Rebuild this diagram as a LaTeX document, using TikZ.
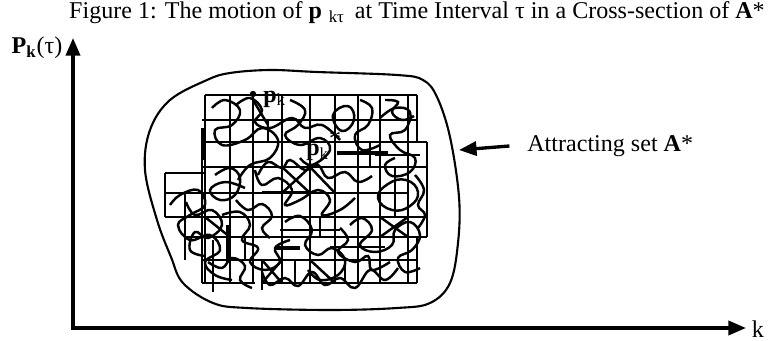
\documentclass[tikz,border=0pt]{standalone}
\usepackage{fontspec}
\setmainfont{Liberation Serif}
\usetikzlibrary{arrows.meta}

\begin{document}
\begin{tikzpicture}[x=0.02cm,y=-0.02cm,
		axis/.style={line width=1.9pt,line cap=rect,-{Triangle[length=10pt,width=8pt]}},
		cell/.style={line width=1.2pt},
		scribble/.style={line width=1.4pt},
		lbl/.style={font=\fontsize{13.7}{16}\selectfont,inner sep=0pt}]
		\useasboundingbox (0,0) rectangle (768,341);

		\node [lbl] (title) at (417,13) {Figure 1: The motion of \textbf{p}\,\textsubscript{\,kτ}\, at Time Interval τ in a Cross-section of \textbf{A}*};
		\node [lbl] (plabel) at (37,48) {\textbf{P\textsubscript{k}}(τ)};
		\node [lbl] (klabel) at (758,329) {k};

		\coordinate (origin) at (73,328);
		\coordinate (ytop) at (73,38);
		\coordinate (xend) at (746,328);
		\draw [axis] (origin) -- (ytop);
		\draw [axis] (origin) -- (xend);

		\draw [line width=1.2pt] plot [smooth cycle, tension=0.6] coordinates {(207,80) (230,73) (270,70) (317,72) (397,75) (423,80) (437,97) (450,137) (459,197) (458,243) (450,283) (430,303) (397,308) (330,310) (247,308) (213,303) (183,283) (171,257) (157,220) (145,170) (150,130) (170,100)};
		\coordinate (blobedge) at (459,150);

		\draw [cell] (205,95) -- (417,95);
		\draw [cell] (202,120) -- (417,120);
		\draw [cell] (205,142) -- (427,142);
		\draw [cell] (202,167) -- (427,167);
		\draw [cell] (165,173) -- (205,173);
		\draw [cell] (165,193) -- (407,193);
		\draw [cell] (165,217) -- (427,217);
		\draw [cell] (185,237) -- (427,237);
		\draw [cell] (202,260) -- (417,260);
		\draw [cell] (202,283) -- (255,283);
		\draw [cell] (262,283) -- (417,283);
		\draw [cell] (262,192) -- (310,192);
		\draw [cell] (280,230) -- (340,230);
		\draw [cell] (330,247) -- (385,247);
		\draw [cell] (375,155) -- (420,155);

		\draw [cell] (205,95) -- (205,283);
		\draw [cell] (202,130) -- (202,283);
		\draw [cell] (230,95) -- (230,283);
		\draw [cell] (253,95) -- (253,283);
		\draw [cell] (282,95) -- (282,283);
		\draw [cell] (310,95) -- (310,283);
		\draw [cell] (335,95) -- (335,283);
		\draw [cell] (358,95) -- (358,283);
		\draw [cell] (380,95) -- (380,283);
		\draw [cell] (408,95) -- (408,283);
		\draw [cell] (417,95) -- (417,142);
		\draw [cell] (427,142) -- (427,237);
		\draw [cell] (417,237) -- (417,283);
		\draw [cell] (165,173) -- (165,217);
		\draw [cell] (185,193) -- (185,260);
		\draw [cell] (268,120) -- (268,142);
		\draw [cell] (370,142) -- (370,167);
		\draw [cell] (395,167) -- (395,217);
		\draw [cell] (320,217) -- (320,237);
		\draw [cell] (245,237) -- (245,260);
		\draw [cell] (295,260) -- (295,283);
		\draw [cell] (345,260) -- (345,283);
		\draw [cell] (262,260) -- (262,290);
		\draw [cell] (213,240) -- (213,292);

		\draw [line width=2.4pt] (203,128) -- (203,160);
		\draw [line width=2.4pt] (337,153) -- (388,153);
		\draw [line width=2.2pt] (228,225) -- (228,262);
		\draw [line width=2.2pt] (276,248) -- (300,248);

		\draw [scribble] plot [smooth, tension=0.7] coordinates {(212,108) (225,100) (240,110) (232,125) (215,130) (222,145) (245,140) (262,128) (278,140) (270,158) (250,165) (238,180)};
		\draw [scribble] plot [smooth, tension=0.7] coordinates {(290,100) (305,110) (298,125) (285,135) (300,145) (320,138) (330,150) (312,165) (300,158)};
		\draw [scribble] plot [smooth cycle, tension=0.8] coordinates {(333,115) (348,106) (354,120) (342,131)};
		\draw [scribble] plot [smooth, tension=0.7] coordinates {(360,100) (372,108) (368,125) (355,135) (362,150) (380,145)};
		\draw [scribble] plot [smooth, tension=0.7] coordinates {(380,118) (395,108) (410,112) (405,130) (390,135) (400,150) (415,158) (410,172) (392,176) (385,165) (395,158)};
		\draw [scribble] plot [smooth, tension=0.7] coordinates {(215,175) (230,168) (240,178) (235,195) (220,200) (210,190) (225,182) (245,188)};
		\draw [scribble] plot [smooth, tension=0.7] coordinates {(255,170) (262,185) (278,178) (292,190) (285,205) (300,200) (318,190) (330,200) (322,215) (340,210) (355,198)};
		\draw [scribble] plot [smooth, tension=0.7] coordinates {(170,205) (180,195) (198,190) (205,205) (190,215) (178,225) (190,240) (210,235) (220,250) (205,262) (215,275) (232,280)};
		\draw [scribble] plot [smooth, tension=0.7] coordinates {(222,215) (240,212) (250,225) (242,240) (258,248) (250,262) (265,270) (280,262) (275,248) (290,240)};
		\draw [scribble] plot [smooth, tension=0.7] coordinates {(285,222) (300,216) (312,230) (305,245) (318,255) (332,248) (345,260) (338,275) (320,280) (308,270)};
		\draw [scribble] plot [smooth, tension=0.7] coordinates {(350,225) (362,218) (372,230) (360,245) (375,252) (392,245) (395,230) (410,222) (420,235) (412,250) (398,258) (405,272) (420,268)};
		\draw [scribble] plot [smooth cycle, tension=0.8] coordinates {(378,198) (388,184) (406,180) (418,192) (410,206) (392,210)};
		\draw [scribble] plot [smooth, tension=0.7] coordinates {(236,105) (250,98) (262,110) (255,122) (270,128) (292,118) (305,128) (322,125) (340,140)};
		\draw [scribble] plot [smooth, tension=0.7] coordinates {(258,175) (268,162) (282,168) (290,160) (305,170) (318,165) (328,178) (345,172) (358,182) (372,176)};
		\draw [scribble] plot [smooth, tension=0.7] coordinates {(186,202) (195,215) (212,210) (222,225) (208,238) (195,232) (190,250) (205,256)};
		\draw [scribble] plot [smooth, tension=0.7] coordinates {(262,272) (270,285) (285,278) (298,286) (312,272) (325,285) (340,278) (355,288) (370,270) (385,280) (398,268)};
		\draw [scribble] plot [smooth, tension=0.7] coordinates {(340,228) (348,240) (338,252) (355,262) (368,256) (372,270) (390,262)};
		\draw [scribble] plot [smooth, tension=0.7] coordinates {(236,200) (248,210) (262,204) (272,216) (262,228) (270,238)};
		\draw [scribble] plot [smooth, tension=0.7] coordinates {(385,100) (398,102) (392,112) (402,120) (414,116)};
		\draw [scribble] plot [smooth, tension=0.7] coordinates {(208,262) (222,268) (232,258) (245,266) (240,280) (252,288)};
		\draw [scribble] plot [smooth, tension=0.7] coordinates {(415,175) (424,190) (418,205) (425,215) (418,228)};

		\draw [scribble] (282,167) -- (310,193);
		\draw [scribble] (310,167) -- (282,193);
		\draw [scribble] (310,167) -- (335,193);
		\draw [scribble] (380,217) -- (408,237);
		\draw [scribble] (408,217) -- (380,237);
		\draw [scribble] (205,217) -- (230,237);
		\draw [scribble] (262,260) -- (282,283);
		\draw [scribble] (282,260) -- (262,283);
		\draw [scribble] (253,100) -- (268,125);
		\draw [scribble] (310,260) -- (335,283);

		\fill (253,94) circle (3.2);
		\coordinate (dot) at (253,94);
		\node [lbl, anchor=west] (pk) at (263,99) {\textbf{p}\textsubscript{k}};
		\node [lbl, anchor=west] (pkstar) at (306,146) {\textbf{p}\textsubscript{k}\raisebox{0.8ex}{*}};

		\node [lbl, anchor=west] (attr) at (527,146) {Attracting set \textbf{A}*};
		\draw [line width=1.9pt, -{Triangle[length=10pt,width=8pt]}] ([xshift=-10]attr.west) -- (blobedge);
	\end{tikzpicture}
\end{document}
